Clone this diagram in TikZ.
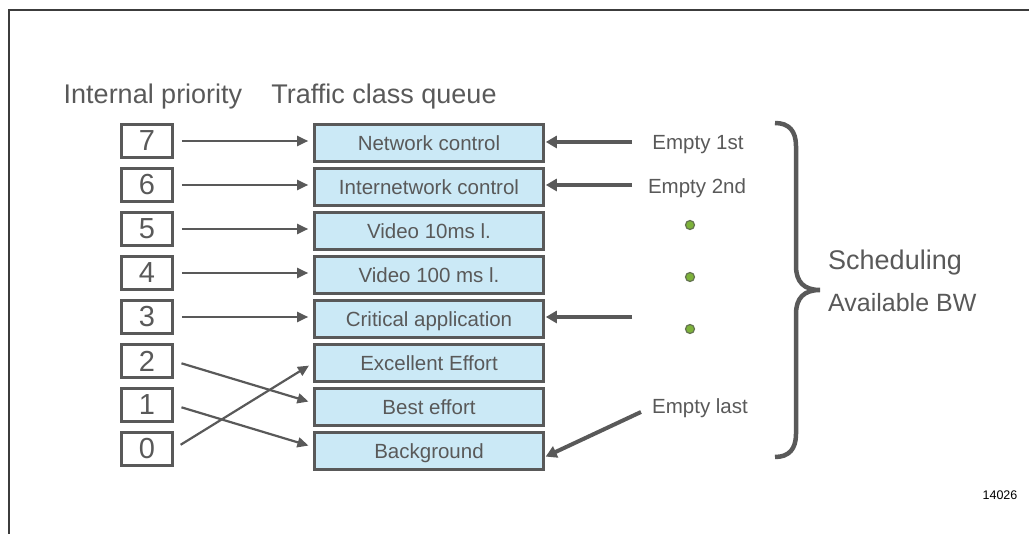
\documentclass[tikz,border=0pt]{standalone}
\usepackage{fontspec}
\setmainfont{Liberation Sans}
\usetikzlibrary{arrows.meta}
\definecolor{ink}{HTML}{595959}
\definecolor{frameink}{HTML}{3C3C3C}
\definecolor{qfill}{HTML}{CBE9F6}
\definecolor{dotgreen}{HTML}{7DB23A}
\begin{document}
\begin{tikzpicture}[x=1pt,y=-1pt,
  prio/.style={draw=ink, line width=2.6pt, minimum width=51pt, minimum height=33pt,
    inner sep=0pt, text=ink, font=\fontsize{29}{29}\selectfont},
  queue/.style={draw=ink, fill=qfill, line width=2.6pt, minimum width=229pt,
    minimum height=37.5pt, inner sep=0pt, text=ink, text height=14.6pt, text depth=0pt,
    font=\fontsize{20.5}{20.5}\selectfont},
  title/.style={text=ink, inner sep=0pt, font=\fontsize{27}{27}\selectfont},
  label/.style={text=ink, inner sep=0pt, text height=14.6pt, text depth=0pt,
    font=\fontsize{20.5}{20.5}\selectfont},
  map/.style={draw=ink, line width=2.2pt, -{Triangle[length=11pt,width=10pt]}},
  sched/.style={draw=ink, line width=4pt, -{Triangle[length=11pt,width=12pt]}},
  dot/.style={circle, draw=ink!70!dotgreen, fill=dotgreen, line width=1.2pt,
    minimum size=9pt, inner sep=0pt}]
  \useasboundingbox (0,0) rectangle (1029,534);

  % frame
  \draw[frameink, line width=2pt] (9,534) -- (9,10) -- (1029,10);

  % column headings
  \node[title] (hprio) at (153,97) {Internal priority};
  \node[title] (hqueue) at (384,97) {Traffic class queue};

  % internal priorities
  \foreach \p [count=\i from 0] in {7,6,5,4,3,2,1,0}
    \node[prio] (p\p) at (147,141+44*\i) {\p};

  % traffic class queues
  \node[queue] (q7) at (429,143) {Network control};
  \node[queue] (q6) at (429,187) {Internetwork control};
  \node[queue] (q5) at (429,231) {Video 10ms l.};
  \node[queue] (q4) at (429,275) {Video 100 ms l.};
  \node[queue] (q3) at (429,319) {Critical application};
  \node[queue] (qee) at (429,363) {Excellent Effort};
  \node[queue] (qbe) at (429,407) {Best effort};
  \node[queue] (qbk) at (429,451) {Background};

  % priority to queue mapping
  \foreach \p in {7,6,5,4,3}
    \draw[map, shorten <=8pt, shorten >=5pt] (p\p.east) -- (p\p.east -| q\p.west);
  \draw[map, shorten <=8pt, shorten >=5pt] (p2.east) -- ([yshift=4pt]qbe.west);
  \draw[map, shorten <=8pt, shorten >=5pt] (p1.east) -- ([yshift=4pt]qbk.west);
  \draw[map, shorten <=8pt, shorten >=5pt] (p0.east) -- ([yshift=0pt]qee.west);

  % scheduling order
  \node[label] (e1) at (698,142.5) {Empty 1st};
  \node[label] (e2) at (697,186) {Empty 2nd};
  \node[label] (el) at (700,406.5) {Empty last};
  \coordinate (s7) at (632,142);
  \coordinate (s6) at (632,185);
  \coordinate (s3) at (632,317);
  \coordinate (sl) at (641,412);
  \draw[sched, shorten >=1pt] (s7) -- (s7 -| q7.east);
  \draw[sched, shorten >=1pt] (s6) -- (s6 -| q6.east);
  \draw[sched, shorten >=1pt] (s3) -- (s3 -| q3.east);
  \draw[sched, shorten >=1pt] (sl) -- ([yshift=-6pt]qbk.east);

  \node[dot] (d1) at (690,225) {};
  \node[dot] (d2) at (690,277) {};
  \node[dot] (d3) at (690,329) {};

  % brace
  \draw[ink, line width=4.5pt]
    (775,123) .. controls (789,123) and (796,131) .. (796,146)
    -- (796,266) .. controls (796,282) and (804,290) .. (820,290)
    .. controls (804,290) and (796,298) .. (796,314)
    -- (796,434) .. controls (796,449) and (789,457) .. (775,457);
  \node[title, anchor=west] (sch) at (828,263) {Scheduling};
  \node[title, anchor=west, font=\fontsize{25}{25}\selectfont] (bw) at (828,303) {Available BW};

  \node[inner sep=0pt, text=black, font=\fontsize{12.5}{12.5}\selectfont] (fig) at (1000,495) {14026};
\end{tikzpicture}
\end{document}
